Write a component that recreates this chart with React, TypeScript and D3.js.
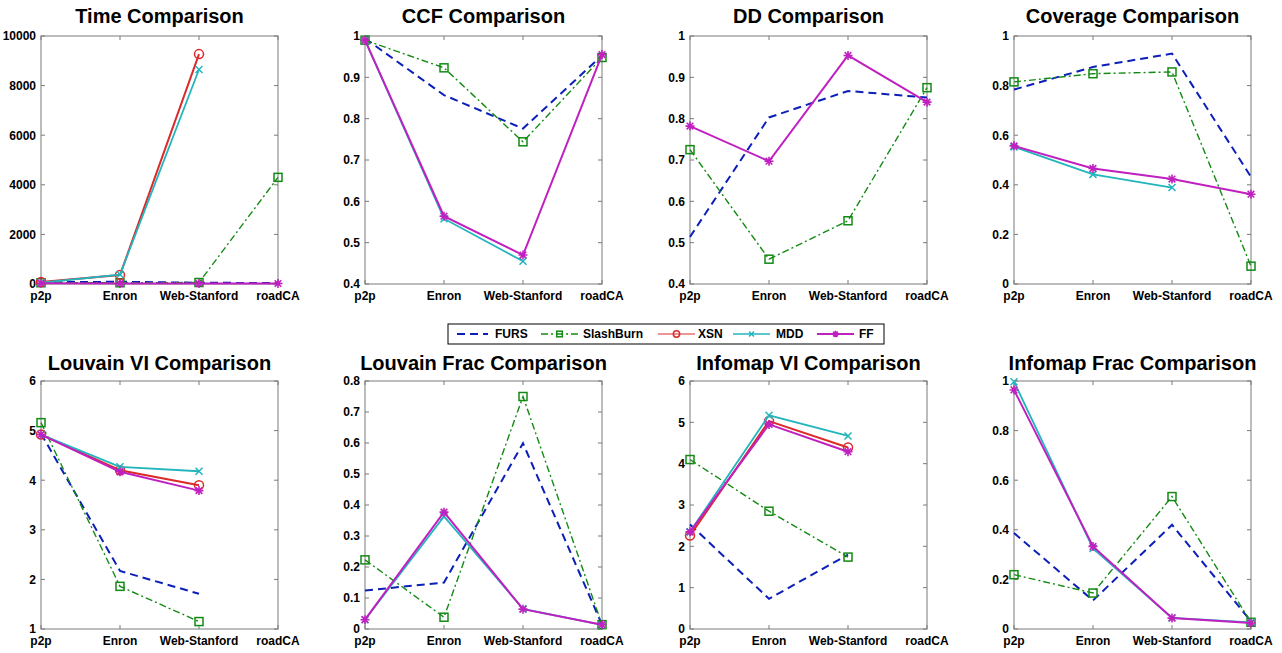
import React from 'react';
import * as d3 from 'd3';

type V = (number | null)[];

const categories = ['p2p', 'Enron', 'Web-Stanford', 'roadCA'];
const methods = ['FURS', 'SlashBurn', 'XSN', 'MDD', 'FF'];

// values; null = nothing visible for that dataset
const timeData: Record<string, V> = {
  FURS: [70, 90, 50, 40],
  SlashBurn: [50, 50, 60, 4300],
  XSN: [80, 360, 9270, null],
  MDD: [50, 380, 8650, null],
  FF: [30, 20, 20, 20],
};
const ccfData: Record<string, V> = {
  FURS: [0.994, 0.857, 0.776, 0.953],
  SlashBurn: [0.99, 0.923, 0.744, 0.948],
  XSN: [null, null, null, null],
  MDD: [0.99, 0.558, 0.455, null],
  FF: [0.99, 0.564, 0.47, 0.955],
};
const ddData: Record<string, V> = {
  FURS: [0.514, 0.803, 0.867, 0.851],
  SlashBurn: [0.725, 0.46, 0.553, 0.875],
  XSN: [null, null, null, null],
  MDD: [null, null, null, null],
  FF: [0.782, 0.697, 0.953, 0.84],
};
const coverageData: Record<string, V> = {
  FURS: [0.784, 0.875, 0.929, 0.432],
  SlashBurn: [0.815, 0.848, 0.855, 0.072],
  XSN: [null, null, null, null],
  MDD: [0.553, 0.442, 0.389, null],
  FF: [0.557, 0.466, 0.423, 0.362],
};
const louvainVIData: Record<string, V> = {
  FURS: [4.94, 2.17, 1.71, null],
  SlashBurn: [5.16, 1.86, 1.15, null],
  XSN: [4.92, 4.2, 3.9, null],
  MDD: [4.92, 4.27, 4.18, null],
  FF: [4.92, 4.17, 3.79, null],
};
const louvainFracData: Record<string, V> = {
  FURS: [0.124, 0.15, 0.599, 0.014],
  SlashBurn: [0.223, 0.038, 0.75, 0.014],
  XSN: [null, null, null, null],
  MDD: [0.03, 0.363, 0.065, 0.013],
  FF: [0.03, 0.377, 0.064, 0.014],
};
const infomapVIData: Record<string, V> = {
  FURS: [2.53, 0.73, 1.8, null],
  SlashBurn: [4.1, 2.85, 1.74, null],
  XSN: [2.26, 5.03, 4.39, null],
  MDD: [2.35, 5.17, 4.67, null],
  FF: [2.35, 4.95, 4.29, null],
};
const infomapFracData: Record<string, V> = {
  FURS: [0.387, 0.115, 0.42, 0.031],
  SlashBurn: [0.219, 0.145, 0.534, 0.027],
  XSN: [null, null, null, null],
  MDD: [0.997, 0.325, 0.045, 0.027],
  FF: [0.964, 0.333, 0.044, 0.024],
};

const timeTicks = [0, 2000, 4000, 6000, 8000, 10000];
const tenthTicks = [0.4, 0.5, 0.6, 0.7, 0.8, 0.9, 1];
const fifthTicks = [0, 0.2, 0.4, 0.6, 0.8, 1];
const louvainVITicks = [1, 2, 3, 4, 5, 6];
const louvainFracTicks = [0, 0.1, 0.2, 0.3, 0.4, 0.5, 0.6, 0.7, 0.8];
const infomapVITicks = [0, 1, 2, 3, 4, 5, 6];

const panels = [
  { title: 'Time Comparison', data: timeData, ticks: timeTicks },
  { title: 'CCF Comparison', data: ccfData, ticks: tenthTicks },
  { title: 'DD Comparison', data: ddData, ticks: tenthTicks },
  { title: 'Coverage Comparison', data: coverageData, ticks: fifthTicks },
  { title: 'Louvain VI Comparison', data: louvainVIData, ticks: louvainVITicks },
  { title: 'Louvain Frac Comparison', data: louvainFracData, ticks: louvainFracTicks },
  { title: 'Infomap VI Comparison', data: infomapVIData, ticks: infomapVITicks },
  { title: 'Infomap Frac Comparison', data: infomapFracData, ticks: fifthTicks },
];

const styles: Record<string, { color: string; width: number; dash?: string; marker: string }> = {
  FURS: { color: '#0c1fb8', width: 2, dash: '8,5', marker: 'none' },
  SlashBurn: { color: '#138a13', width: 1.4, dash: '7,3,2,3', marker: 'square' },
  XSN: { color: '#dc2a2a', width: 2, marker: 'circle' },
  MDD: { color: '#22b5bd', width: 1.8, marker: 'x' },
  FF: { color: '#c020c0', width: 2, marker: 'star' },
};

const FONT = '"Liberation Sans", Arial, Helvetica, sans-serif';
const axLefts = [41, 365, 690, 1014];
const axW = 237;
const rows = [
  { top: 36, bottom: 284, titleY: 23 },
  { top: 381, bottom: 629, titleY: 370 },
];

function Marker({ type, x, y, color, k = 1 }: { type: string; x: number; y: number; color: string; k?: number }) {
  if (type === 'square') {
    const s = 4 * k;
    return <rect x={x - s} y={y - s} width={2 * s} height={2 * s} fill="none" stroke={color} strokeWidth={1.5} />;
  }
  if (type === 'circle') {
    return <circle cx={x} cy={y} r={4.5 * k} fill="none" stroke={color} strokeWidth={1.5} />;
  }
  if (type === 'x') {
    const s = 3.5 * k;
    return (
      <path d={`M${x - s},${y - s}L${x + s},${y + s}M${x - s},${y + s}L${x + s},${y - s}`} stroke={color} strokeWidth={1.5} />
    );
  }
  if (type === 'star') {
    const s = 4.5 * k;
    const d = 3.3 * k;
    return (
      <path
        d={`M${x - s},${y}L${x + s},${y}M${x},${y - s}L${x},${y + s}M${x - d},${y - d}L${x + d},${y + d}M${x - d},${y + d}L${x + d},${y - d}`}
        stroke={color}
        strokeWidth={1.6}
      />
    );
  }
  return null;
}

function Panel({ idx }: { idx: number }) {
  const p = panels[idx];
  const row = rows[Math.floor(idx / 4)];
  const left = axLefts[idx % 4];
  const x = d3.scalePoint<string>().domain(categories).range([left, left + axW]);
  const y = d3
    .scaleLinear()
    .domain([p.ticks[0], p.ticks[p.ticks.length - 1]])
    .range([row.bottom, row.top]);
  const line = d3
    .line<number | null>()
    .defined((d) => d !== null)
    .x((_, i) => x(categories[i]) as number)
    .y((d) => y(d as number));

  return (
    <g>
      <text x={left + axW / 2} y={row.titleY} textAnchor="middle" fontSize={20} fontWeight="bold" fontFamily={FONT}>
        {p.title}
      </text>
      <rect x={left} y={row.top} width={axW} height={row.bottom - row.top} fill="none" stroke="#7a7a7a" strokeWidth={1} />
      {p.ticks.map((t) => (
        <g key={t}>
          <line x1={left} x2={left + 4} y1={y(t)} y2={y(t)} stroke="#7a7a7a" />
          <line x1={left + axW - 4} x2={left + axW} y1={y(t)} y2={y(t)} stroke="#7a7a7a" />
          <text x={left - 5} y={y(t)} dy="0.36em" textAnchor="end" fontSize={12} fontWeight="bold" fontFamily={FONT}>
            {String(t)}
          </text>
        </g>
      ))}
      {categories.map((c) => (
        <g key={c}>
          <line x1={x(c)} x2={x(c)} y1={row.bottom} y2={row.bottom - 4} stroke="#7a7a7a" />
          <line x1={x(c)} x2={x(c)} y1={row.top} y2={row.top + 4} stroke="#7a7a7a" />
          <text x={x(c)} y={row.bottom + 16} textAnchor="middle" fontSize={12} fontWeight="bold" fontFamily={FONT}>
            {c}
          </text>
        </g>
      ))}
      {methods.map((m) => {
        const st = styles[m];
        const vals = p.data[m];
        return (
          <g key={m}>
            <path d={line(vals) || ''} fill="none" stroke={st.color} strokeWidth={st.width} strokeDasharray={st.dash} />
            {vals.map((v, i) =>
              v === null ? null : (
                <Marker key={i} type={st.marker} x={x(categories[i]) as number} y={y(v)} color={st.color} />
              )
            )}
          </g>
        );
      })}
    </g>
  );
}

const legendItems = [
  { m: 'FURS', x0: 457, x1: 488, tx: 495, lw: 2 },
  { m: 'SlashBurn', x0: 541, x1: 578, tx: 583, lw: 1.3 },
  { m: 'XSN', x0: 658, x1: 695, tx: 698, lw: 1 },
  { m: 'MDD', x0: 733, x1: 770, tx: 776, lw: 1.3 },
  { m: 'FF', x0: 817, x1: 854, tx: 859, lw: 2 },
];

function Legend() {
  const cy = 334;
  return (
    <g>
      <rect x={448} y={324} width={436} height={20} fill="#fff" stroke="#000" strokeWidth={1} />
      {legendItems.map((it) => {
        const st = styles[it.m];
        return (
          <g key={it.m}>
            <line x1={it.x0} x2={it.x1} y1={cy} y2={cy} stroke={st.color} strokeWidth={it.lw} strokeDasharray={st.dash} />
            <Marker type={st.marker} x={(it.x0 + it.x1) / 2} y={cy} color={st.color} k={0.7} />
            <text x={it.tx} y={cy} dy="0.37em" fontSize={12} fontWeight="bold" fontFamily={FONT}>
              {it.m}
            </text>
          </g>
        );
      })}
    </g>
  );
}

export default function App() {
  return (
    <div style={{ position: 'absolute', left: 0, top: 0 }}>
      <svg width={1282} height={653} style={{ display: 'block', background: '#fff' }}>
        {panels.map((_, i) => (
          <Panel key={i} idx={i} />
        ))}
        <Legend />
      </svg>
    </div>
  );
}
